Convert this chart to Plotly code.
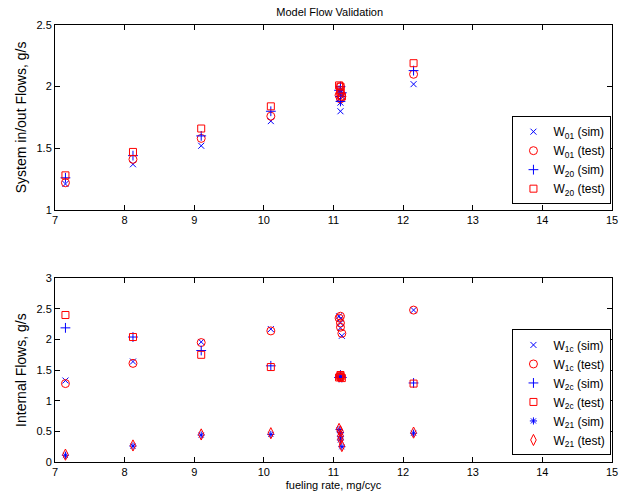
import plotly.graph_objects as go

# fueling rate, mg/cyc (cluster of several runs near 11.1)
fuel = [7.15, 8.12, 9.1, 10.1, 11.08, 11.1, 11.1, 11.12, 11.1, 12.15]

# System in/out flows, g/s
W01_sim = [1.21, 1.37, 1.52, 1.72, 1.90, 1.87, 1.80, 1.92, 1.95, 2.02]
W01_test = [1.22, 1.41, 1.58, 1.76, 1.93, 1.90, 2.00, 1.92, 1.95, 2.10]
W20_sim = [1.26, 1.44, 1.60, 1.80, 1.97, 1.92, 1.88, 1.95, 2.00, 2.13]
W20_test = [1.28, 1.47, 1.66, 1.84, 2.01, 2.00, 1.97, 1.92, 1.95, 2.19]

# Internal flows, g/s
W1c_sim = [1.33, 1.64, 1.96, 2.17, 2.38, 2.27, 2.19, 2.06, 2.34, 2.48]
W1c_test = [1.28, 1.61, 1.95, 2.14, 2.35, 2.27, 2.20, 2.10, 2.38, 2.48]
W2c_sim = [2.19, 2.04, 1.82, 1.57, 1.38, 1.40, 1.42, 1.38, 1.40, 1.29]
W2c_test = [2.40, 2.04, 1.75, 1.55, 1.38, 1.40, 1.42, 1.37, 1.39, 1.28]
W21_sim = [0.11, 0.26, 0.44, 0.45, 0.53, 0.42, 0.36, 0.25, 0.48, 0.47]
W21_test = [0.12, 0.27, 0.45, 0.47, 0.54, 0.43, 0.37, 0.26, 0.50, 0.48]

x_ticks = [7, 8, 9, 10, 11, 12, 13, 14, 15]
top_ticks = [1, 1.5, 2, 2.5]
bot_ticks = [0, 0.5, 1, 1.5, 2, 2.5, 3]

BLUE = "#0000ff"
RED = "#ff0000"
FONT = "Liberation Sans, Arial, sans-serif"

fig = go.Figure()

def add(x, y, name, symbol, color, size, xa, ya, legend):
    fig.add_trace(go.Scatter(
        x=x, y=y, mode="markers", name=name,
        marker=dict(symbol=symbol, color=color, size=size,
                    line=dict(color=color, width=1)),
        xaxis=xa, yaxis=ya, legend=legend))

add(fuel, W01_sim, "W<sub>01</sub> (sim)", "x-thin-open", BLUE, 6, "x", "y", "legend")
add(fuel, W01_test, "W<sub>01</sub> (test)", "circle-open", RED, 8, "x", "y", "legend")
add(fuel, W20_sim, "W<sub>20</sub> (sim)", "cross-thin-open", BLUE, 7, "x", "y", "legend")
add(fuel, W20_test, "W<sub>20</sub> (test)", "square-open", RED, 7, "x", "y", "legend")

add(fuel, W1c_sim, "W<sub>1c</sub> (sim)", "x-thin-open", BLUE, 6, "x2", "y2", "legend2")
add(fuel, W1c_test, "W<sub>1c</sub> (test)", "circle-open", RED, 8, "x2", "y2", "legend2")
add(fuel, W2c_sim, "W<sub>2c</sub> (sim)", "cross-thin-open", BLUE, 7, "x2", "y2", "legend2")
add(fuel, W2c_test, "W<sub>2c</sub> (test)", "square-open", RED, 7, "x2", "y2", "legend2")
add(fuel, W21_sim, "W<sub>21</sub> (sim)", "asterisk-open", BLUE, 6, "x2", "y2", "legend2")
add(fuel, W21_test, "W<sub>21</sub> (test)", "diamond-tall-open", RED, 8, "x2", "y2", "legend2")

axis_common = dict(showline=True, linecolor="black", linewidth=1, mirror="allticks",
                   ticks="inside", ticklen=5, tickcolor="black", showgrid=False,
                   zeroline=False, tickfont=dict(size=11, color="black", family=FONT))

fig.update_layout(
    width=634, height=502,
    margin=dict(l=55, r=22, t=25, b=37),
    paper_bgcolor="white", plot_bgcolor="white",
    font=dict(family=FONT, size=11, color="black"),
    title=dict(text="Model Flow Validation", x=0.52, xanchor="center",
               y=0.976, yanchor="middle", font=dict(size=11, family=FONT)),
    showlegend=True,
    xaxis=dict(domain=[0, 1], range=[7, 15], tickvals=x_ticks, anchor="y", **axis_common),
    yaxis=dict(domain=[0.577, 1], range=[1, 2.5], tickvals=top_ticks,
               ticktext=["1", "1.5", "2", "2.5"], anchor="x",
               title=dict(text="System in/out Flows, g/s", font=dict(size=14), standoff=6),
               **axis_common),
    xaxis2=dict(domain=[0, 1], range=[7, 15], tickvals=x_ticks, anchor="y2",
                title=dict(text="fueling rate, mg/cyc", font=dict(size=11), standoff=4),
                **axis_common),
    yaxis2=dict(domain=[0, 0.4205], range=[0, 3], tickvals=bot_ticks,
                ticktext=["0", "0.5", "1", "1.5", "2", "2.5", "3"], anchor="x2",
                title=dict(text="Internal Flows, g/s", font=dict(size=14), standoff=6),
                **axis_common),
    legend=dict(x=0.999, y=0.59, xanchor="right", yanchor="bottom",
                bordercolor="black", borderwidth=1, bgcolor="white",
                font=dict(size=12, family=FONT), tracegroupgap=0,
                itemwidth=30),
    legend2=dict(x=0.999, y=0.015, xanchor="right", yanchor="bottom",
                 bordercolor="black", borderwidth=1, bgcolor="white",
                 font=dict(size=12, family=FONT), tracegroupgap=0,
                 itemwidth=30),
)

fig.write_html("out.html")
